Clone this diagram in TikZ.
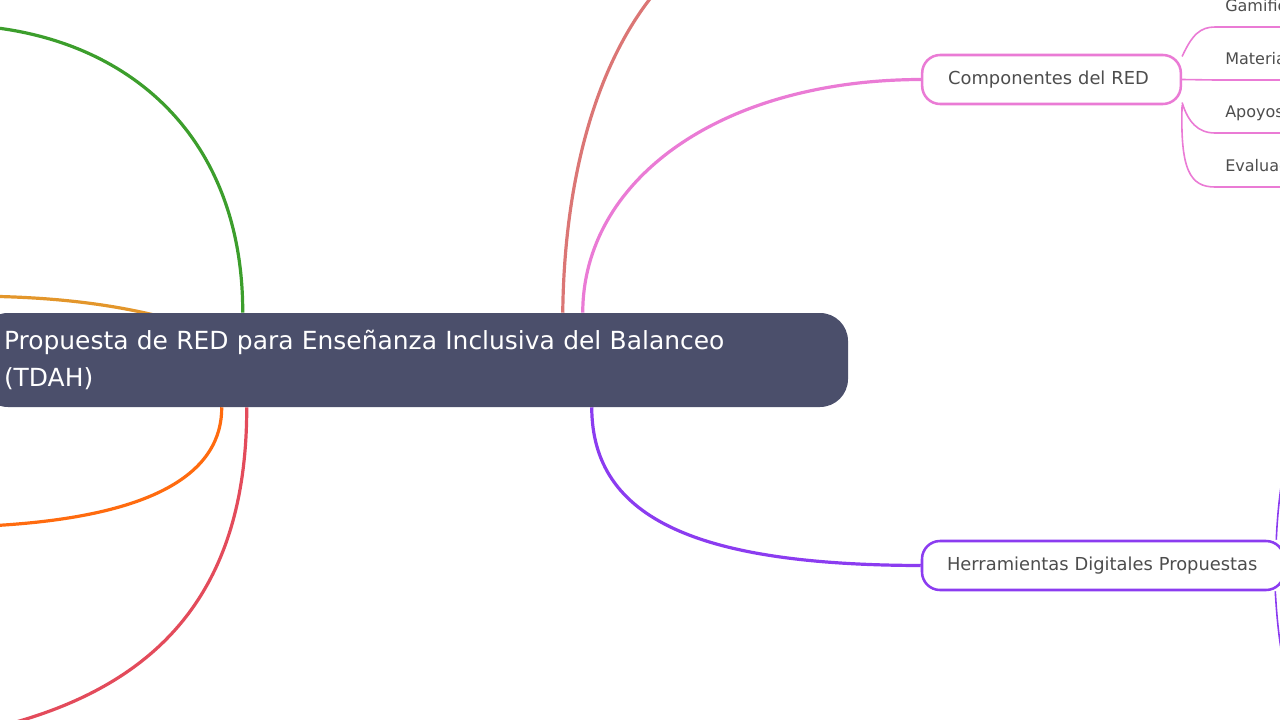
\documentclass[tikz,border=0pt]{standalone}
\usepackage{fontspec}
\setmainfont{DejaVu Sans}
\usepackage{xcolor}
\usetikzlibrary{positioning, backgrounds, calc}
\definecolor{rootfill}{HTML}{4B4F6B}
\definecolor{inkgray}{HTML}{4D4D4D}
\definecolor{greenc}{HTML}{3C9E2C}
\definecolor{amberc}{HTML}{E3962B}
\definecolor{orangec}{HTML}{FF6B0F}
\definecolor{redc}{HTML}{E34B5B}
\definecolor{salmonc}{HTML}{DB7675}
\definecolor{pinkc}{HTML}{EA7BD5}
\definecolor{purplec}{HTML}{8B3CF0}
\tikzstyle{branch} = [line width=2.4pt]
\tikzstyle{twig} = [line width=1.2pt]

\begin{document}
\begin{tikzpicture}[x=0.75pt, y=-0.75pt]
\tikzstyle{root} = [rectangle, rounded corners=21pt, fill=rootfill, text=white, minimum width=651pt, minimum height=70.5pt, text width=615pt, align=left, inner xsep=18pt, font=\fontsize{18.7pt}{27.75pt}\selectfont]
\tikzstyle{topic} = [rectangle, rounded corners=13.5pt, fill=white, line width=1.9pt, minimum height=36.75pt, align=left, text=inkgray, font=\fontsize{13.4pt}{16pt}\selectfont]
\tikzstyle{leaf} = [anchor=south west, inner xsep=7.5pt, inner ysep=11.6pt, text depth=0pt, text=inkgray, font=\fontsize{12pt}{15pt}\selectfont]

\useasboundingbox (0,0) rectangle (1280,720);
\clip (0,0) rectangle (1280,720);

\node (root) [root] at (414,360) {Propuesta de RED para Enseñanza Inclusiva del Balanceo\\(TDAH)};
\node (comp) [topic, draw=pinkc, text width=155pt, inner xsep=19.5pt] at (1051.5,79.5) {Componentes del RED};
\node (herr) [topic, draw=purplec, text width=234pt, inner xsep=18.75pt] at (1103,565.5) {Herramientas Digitales Propuestas};

\node (gam) [leaf] at (1215,27) {Gamificación};
\node (mat) [leaf] at (1215,80) {Materiales};
\node (apo) [leaf] at (1215,133) {Apoyos};
\node (eva) [leaf] at (1215,187) {Evaluación};

% ends of the branches that leave the page
\coordinate (greenEnd) at (-40,25);
\coordinate (amberEnd) at (-40,296);
\coordinate (orangeEnd) at (-40,527);
\coordinate (redEnd) at (-40,735);
\coordinate (salmonEnd) at (760,-80);
\coordinate (herrUp) at (1310,400);
\coordinate (herrDown) at (1310,720);

\begin{scope}[on background layer]
\draw [branch, greenc] ($(root.north west)+(263,0)$) .. controls (243,130) and (120,30) .. (greenEnd);
\draw [branch, amberc] ($(root.north west)+(210,12)$) .. controls (110,300) and (30,296) .. (amberEnd);
\draw [branch, orangec] ($(root.south west)+(242,0)$) .. controls (222,470) and (160,522) .. (orangeEnd);
\draw [branch, redc] ($(root.south west)+(267,0)$) .. controls (247,600) and (150,700) .. (redEnd);
\draw [branch, salmonc] ($(root.north west)+(583,0)$) .. controls (565,120) and (630,-40) .. (salmonEnd);
\draw [branch, pinkc] ($(root.north west)+(603,0)$) .. controls (583,180) and (720,80) .. (comp.west);
\draw [branch, purplec] ($(root.south west)+(612,0)$) .. controls (592,520) and (700,565) .. (herr.west);

\draw [twig, pinkc] (comp.10) .. controls (1192,35) and (1200,27) .. (gam.south west) -- (gam.south east);
\draw [twig, pinkc] (comp.east) -- (mat.south west) -- (mat.south east);
\draw [twig, pinkc] (comp.-10) .. controls (1188,122) and (1198,133) .. (apo.south west) -- (apo.south east);
\draw [twig, pinkc] (comp.-11) .. controls (1180,170) and (1190,187) .. (eva.south west) -- (eva.south east);

\draw [twig, purplec] ($(herr.north east)+(-9,0)$) .. controls (1278,500) and (1285,430) .. (herrUp);
\draw [twig, purplec] ($(herr.south east)+(-10,0)$) .. controls (1278,640) and (1285,700) .. (herrDown);
\end{scope}

\end{tikzpicture}
\end{document}
